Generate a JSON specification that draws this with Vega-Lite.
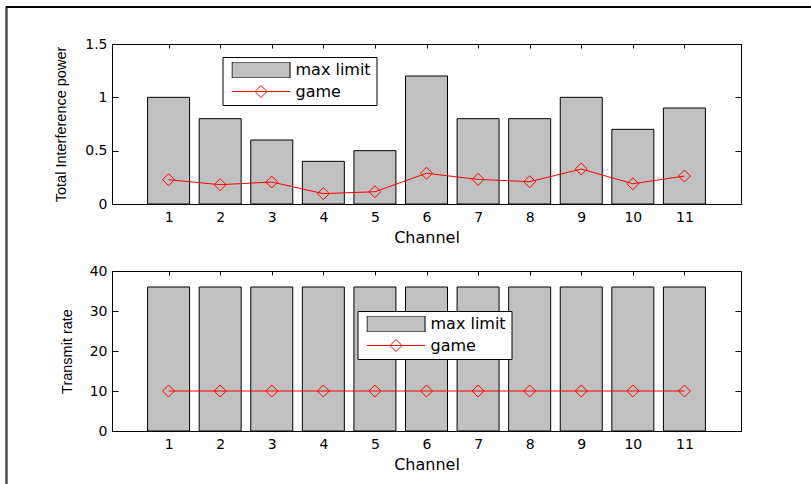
{
  "$schema": "https://vega.github.io/schema/vega-lite/v6.json",
  "padding": {"left": 4.5, "top": 5, "right": 0, "bottom": 0},
  "background": "white",
  "datasets": {
    "top": [
      {"channel": 1, "series": "max limit", "value": 1.0},
      {"channel": 2, "series": "max limit", "value": 0.8},
      {"channel": 3, "series": "max limit", "value": 0.6},
      {"channel": 4, "series": "max limit", "value": 0.4},
      {"channel": 5, "series": "max limit", "value": 0.5},
      {"channel": 6, "series": "max limit", "value": 1.2},
      {"channel": 7, "series": "max limit", "value": 0.8},
      {"channel": 8, "series": "max limit", "value": 0.8},
      {"channel": 9, "series": "max limit", "value": 1.0},
      {"channel": 10, "series": "max limit", "value": 0.7},
      {"channel": 11, "series": "max limit", "value": 0.9},
      {"channel": 1, "series": "game", "value": 0.228},
      {"channel": 2, "series": "game", "value": 0.181},
      {"channel": 3, "series": "game", "value": 0.206},
      {"channel": 4, "series": "game", "value": 0.097},
      {"channel": 5, "series": "game", "value": 0.115},
      {"channel": 6, "series": "game", "value": 0.288},
      {"channel": 7, "series": "game", "value": 0.231},
      {"channel": 8, "series": "game", "value": 0.209},
      {"channel": 9, "series": "game", "value": 0.328},
      {"channel": 10, "series": "game", "value": 0.19},
      {"channel": 11, "series": "game", "value": 0.262}
    ],
    "bottom": [
      {"channel": 1, "series": "max limit", "value": 36},
      {"channel": 2, "series": "max limit", "value": 36},
      {"channel": 3, "series": "max limit", "value": 36},
      {"channel": 4, "series": "max limit", "value": 36},
      {"channel": 5, "series": "max limit", "value": 36},
      {"channel": 6, "series": "max limit", "value": 36},
      {"channel": 7, "series": "max limit", "value": 36},
      {"channel": 8, "series": "max limit", "value": 36},
      {"channel": 9, "series": "max limit", "value": 36},
      {"channel": 10, "series": "max limit", "value": 36},
      {"channel": 11, "series": "max limit", "value": 36},
      {"channel": 1, "series": "game", "value": 10},
      {"channel": 2, "series": "game", "value": 10},
      {"channel": 3, "series": "game", "value": 10},
      {"channel": 4, "series": "game", "value": 10},
      {"channel": 5, "series": "game", "value": 10},
      {"channel": 6, "series": "game", "value": 10},
      {"channel": 7, "series": "game", "value": 10},
      {"channel": 8, "series": "game", "value": 10},
      {"channel": 9, "series": "game", "value": 10},
      {"channel": 10, "series": "game", "value": 10},
      {"channel": 11, "series": "game", "value": 10}
    ],
    "empty": []
  },
  "vconcat": [
    {
      "width": 820,
      "height": 1,
      "data": {"name": "empty"},
      "mark": {"type": "point"},
      "view": {"stroke": "#000000", "strokeWidth": 1}
    },
    {
      "hconcat": [
        {
          "width": 1,
          "height": 500,
          "data": {"name": "empty"},
          "mark": {"type": "point"},
          "view": {"stroke": "#000000", "strokeWidth": 1}
        },
        {
          "vconcat": [
            {
              "width": 629,
              "height": 1,
              "data": {"name": "empty"},
              "mark": {"type": "point"},
              "view": {"stroke": null}
            },
            {
              "vconcat": [
                {
                  "width": 629,
                  "height": 160,
                  "data": {"name": "top"},
                  "layer": [
                    {
                      "transform": [{"filter": "datum.series === 'max limit'"}],
                      "mark": {"type": "bar", "size": 42, "fill": "#c0c0c0", "stroke": "#000000", "strokeWidth": 1},
                      "encoding": {
                        "x": {"field": "channel", "type": "quantitative", "scale": {"domain": [0, 12], "nice": false},
                          "axis": {"orient": "bottom", "values": [1,2,3,4,5,6,7,8,9,10,11], "tickSize": -4, "labelPadding": 10, "domain": false, "title": "Channel", "titleFontSize": 16, "titlePadding": 5, "labelFontSize": 14, "labelFlush": false}},
                        "y": {"field": "value", "type": "quantitative", "scale": {"domain": [0, 1.5], "nice": false},
                          "axis": {"orient": "left", "values": [0, 0.5, 1, 1.5], "format": "~g", "tickSize": -6, "labelPadding": 11, "domain": false, "title": "Total Interference power", "titleFont": "Liberation Sans", "titleFontSize": 14.5, "titlePadding": 16, "labelFontSize": 14}}
                      }
                    },
                    {
                      "transform": [{"filter": "datum.series === 'game'"}],
                      "mark": {"type": "line", "stroke": "#ff0000", "strokeWidth": 1},
                      "encoding": {
                        "x": {"field": "channel", "type": "quantitative", "scale": {"domain": [0, 12], "nice": false}, "axis": null},
                        "y": {"field": "value", "type": "quantitative", "scale": {"domain": [0, 1.5], "nice": false}, "axis": null}
                      }
                    },
                    {
                      "transform": [{"filter": "datum.series === 'game'"}],
                      "mark": {"type": "point", "shape": "diamond", "size": 144, "filled": false, "stroke": "#ff0000", "strokeWidth": 1, "opacity": 1},
                      "encoding": {
                        "x": {"field": "channel", "type": "quantitative", "scale": {"domain": [0, 12], "nice": false},
                          "axis": {"orient": "top", "values": [1,2,3,4,5,6,7,8,9,10,11], "tickSize": -4, "labels": false, "domain": false, "title": null}},
                        "y": {"field": "value", "type": "quantitative", "scale": {"domain": [0, 1.5], "nice": false},
                          "axis": {"orient": "right", "values": [0, 0.5, 1, 1.5], "tickSize": -6, "labels": false, "domain": false, "title": null}}
                      }
                    },
                    {
                      "data": {"name": "empty"},
                      "mark": {"type": "point", "filled": true, "size": 3364, "strokeWidth": 1, "opacity": 1},
                      "encoding": {
                        "shape": {"field": "series", "type": "nominal", "scale": {"domain": ["max limit", "game"], "range": ["M-1,-0.276H1V0.276H-1Z", "M-1,0H1M-0.207,0L0,-0.207L0.207,0L0,0.207Z"]},
                          "legend": {"orient": "none", "legendX": 110.5, "legendY": 13, "direction": "vertical", "title": " ", "titleOrient": "left", "titleFontSize": 8, "titlePadding": 4,
                            "padding": 5, "rowPadding": 5.5, "clipHeight": 16, "strokeColor": "#000000", "fillColor": "#ffffff", "symbolSize": 3364, "symbolStrokeWidth": 1, "symbolOpacity": 1, "labelOffset": 5,
                            "labelFont": "DejaVu Sans", "labelFontSize": 16, "labelColor": "#000000", "labelExpr": "datum.label + '\u00a0\u00a0'"}},
                        "fill": {"field": "series", "type": "nominal", "scale": {"domain": ["max limit", "game"], "range": ["#c0c0c0", "transparent"]}},
                        "stroke": {"field": "series", "type": "nominal", "scale": {"domain": ["max limit", "game"], "range": ["#000000", "#ff0000"]}}
                      }
                    }
                  ],
                  "resolve": {"axis": {"x": "independent", "y": "independent"}}
                },
                {
                  "width": 629,
                  "height": 160,
                  "data": {"name": "bottom"},
                  "layer": [
                    {
                      "transform": [{"filter": "datum.series === 'max limit'"}],
                      "mark": {"type": "bar", "size": 42, "fill": "#c0c0c0", "stroke": "#000000", "strokeWidth": 1},
                      "encoding": {
                        "x": {"field": "channel", "type": "quantitative", "scale": {"domain": [0, 12], "nice": false},
                          "axis": {"orient": "bottom", "values": [1,2,3,4,5,6,7,8,9,10,11], "tickSize": -4, "labelPadding": 10, "domain": false, "title": "Channel", "titleFontSize": 16, "titlePadding": 5, "labelFontSize": 14, "labelFlush": false}},
                        "y": {"field": "value", "type": "quantitative", "scale": {"domain": [0, 40], "nice": false},
                          "axis": {"orient": "left", "values": [0, 10, 20, 30, 40], "tickSize": -6, "labelPadding": 11, "domain": false, "title": "Transmit rate", "titleFont": "Liberation Sans", "titleFontSize": 14.5, "titlePadding": 14.5, "labelFontSize": 14}}
                      }
                    },
                    {
                      "transform": [{"filter": "datum.series === 'game'"}],
                      "mark": {"type": "line", "stroke": "#ff0000", "strokeWidth": 1},
                      "encoding": {
                        "x": {"field": "channel", "type": "quantitative", "scale": {"domain": [0, 12], "nice": false}, "axis": null},
                        "y": {"field": "value", "type": "quantitative", "scale": {"domain": [0, 40], "nice": false}, "axis": null}
                      }
                    },
                    {
                      "transform": [{"filter": "datum.series === 'game'"}],
                      "mark": {"type": "point", "shape": "diamond", "size": 144, "filled": false, "stroke": "#ff0000", "strokeWidth": 1, "opacity": 1},
                      "encoding": {
                        "x": {"field": "channel", "type": "quantitative", "scale": {"domain": [0, 12], "nice": false},
                          "axis": {"orient": "top", "values": [1,2,3,4,5,6,7,8,9,10,11], "tickSize": -4, "labels": false, "domain": false, "title": null}},
                        "y": {"field": "value", "type": "quantitative", "scale": {"domain": [0, 40], "nice": false},
                          "axis": {"orient": "right", "values": [0, 10, 20, 30, 40], "tickSize": -6, "labels": false, "domain": false, "title": null}}
                      }
                    },
                    {
                      "data": {"name": "empty"},
                      "mark": {"type": "point", "filled": true, "size": 3364, "strokeWidth": 1, "opacity": 1},
                      "encoding": {
                        "shape": {"field": "series", "type": "nominal", "scale": {"domain": ["max limit", "game"], "range": ["M-1,-0.276H1V0.276H-1Z", "M-1,0H1M-0.207,0L0,-0.207L0.207,0L0,0.207Z"]},
                          "legend": {"orient": "none", "legendX": 245.5, "legendY": 40, "direction": "vertical", "title": " ", "titleOrient": "left", "titleFontSize": 8, "titlePadding": 4,
                            "padding": 5, "rowPadding": 5.5, "clipHeight": 16, "strokeColor": "#000000", "fillColor": "#ffffff", "symbolSize": 3364, "symbolStrokeWidth": 1, "symbolOpacity": 1, "labelOffset": 5,
                            "labelFont": "DejaVu Sans", "labelFontSize": 16, "labelColor": "#000000", "labelExpr": "datum.label + '\u00a0\u00a0'"}},
                        "fill": {"field": "series", "type": "nominal", "scale": {"domain": ["max limit", "game"], "range": ["#c0c0c0", "transparent"]}},
                        "stroke": {"field": "series", "type": "nominal", "scale": {"domain": ["max limit", "game"], "range": ["#000000", "#ff0000"]}}
                      }
                    }
                  ],
                  "resolve": {"axis": {"x": "independent", "y": "independent"}}
                }
              ],
              "spacing": 67,
              "bounds": "flush",
              "resolve": {"scale": {"stroke": "independent", "fill": "independent", "shape": "independent"}, "legend": {"stroke": "independent", "fill": "independent", "shape": "independent"}}
            }
          ],
          "spacing": 36,
          "bounds": "flush"
        }
      ],
      "spacing": 105.5,
      "bounds": "flush"
    }
  ],
  "spacing": 0,
  "bounds": "flush",
  "config": {
    "view": {"stroke": "#000000", "strokeWidth": 1},
    "font": "DejaVu Sans",
    "axis": {"grid": false, "labelFont": "DejaVu Sans", "titleFont": "DejaVu Sans", "labelColor": "#000000", "titleColor": "#000000", "tickColor": "#000000", "titleFontWeight": "normal", "tickWidth": 1}
  }
}
